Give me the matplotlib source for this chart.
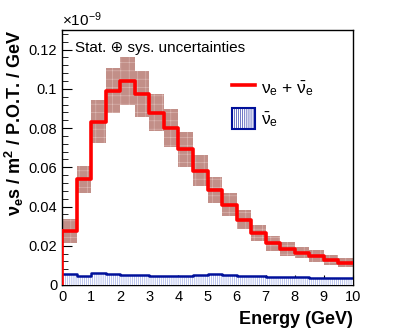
import numpy as np
import matplotlib
matplotlib.use('Agg')
import matplotlib.pyplot as plt
from matplotlib.lines import Line2D
from matplotlib.patches import Patch
from matplotlib.ticker import MultipleLocator

plt.rcParams['font.family'] = ['Liberation Sans', 'DejaVu Sans']
plt.rcParams['mathtext.fontset'] = 'custom'
plt.rcParams['mathtext.rm'] = 'Liberation Sans'
plt.rcParams['mathtext.it'] = 'Liberation Sans'
plt.rcParams['mathtext.bf'] = 'Liberation Sans:bold'

# energy bins (GeV)
bin_edges = np.arange(0, 10.5, 0.5)

# nue + nuebar flux (x1e-9)
total = [0.0276, 0.0539, 0.0833, 0.0991, 0.1041, 0.0974, 0.0879, 0.0799,
         0.0692, 0.0583, 0.0485, 0.0410, 0.0332, 0.0264, 0.0212, 0.0184,
         0.0165, 0.0148, 0.0126, 0.0114]
# stat + sys uncertainty
total_err = [0.0062, 0.0070, 0.0108, 0.0114, 0.0122, 0.0118, 0.0095, 0.0098,
             0.0090, 0.0078, 0.0068, 0.0058, 0.0048, 0.0042, 0.0037, 0.0034,
             0.0027, 0.0030, 0.0025, 0.0023]
# nuebar only
nuebar = [0.0056, 0.0046, 0.0060, 0.0055, 0.0050, 0.0049, 0.0048, 0.0047,
          0.0048, 0.0052, 0.0054, 0.0050, 0.0047, 0.0045, 0.0043, 0.0041,
          0.0040, 0.0038, 0.0036, 0.0034]

fig = plt.figure(figsize=(4.15, 3.35), dpi=100)
ax = fig.add_axes([0.1494, 0.1493, 0.7012, 0.7611])

# uncertainty boxes
plt.rcParams['hatch.linewidth'] = 0.4
for i in range(len(total)):
    ax.fill_between(bin_edges[i:i + 2], total[i] - total_err[i], total[i] + total_err[i],
                    facecolor='#c28f88', edgecolor='#ddbbb6', hatch='++', lw=0, zorder=2)

# nuebar hatched histogram
nb = np.append(nuebar, nuebar[-1])
ax.fill_between(bin_edges, 0, nb, step='post', facecolor='white', edgecolor='#8595e0',
                hatch='||||||||', lw=0, zorder=3)
ax.step(bin_edges, nb, where='post', color='#00109a', lw=1.8, zorder=4)

# total histogram
tt = np.append(total, total[-1])
ax.step(bin_edges, tt, where='post', color='#ff0000', lw=2.6, zorder=5)
ax.plot([0, 0], [0, total[0]], color='#ff0000', lw=2.6, zorder=5)

ax.set_xlim(0, 10)
ax.set_ylim(0, 0.13)
ax.xaxis.set_major_locator(MultipleLocator(1))
ax.xaxis.set_minor_locator(MultipleLocator(0.2))
ax.yaxis.set_major_locator(MultipleLocator(0.02))
ax.yaxis.set_minor_locator(MultipleLocator(0.004))
ax.set_yticks([0, 0.02, 0.04, 0.06, 0.08, 0.1, 0.12])
ax.set_yticklabels(['0', '0.02', '0.04', '0.06', '0.08', '0.1', '0.12'])
ax.tick_params(which='both', direction='in', top=False, right=False, labelsize=10.5)
ax.tick_params(which='major', length=7)
ax.tick_params(which='minor', length=4)
for s in ax.spines.values():
    s.set_linewidth(1.0)

ax.set_xlabel('Energy (GeV)', fontsize=13, fontweight='bold', loc='right', labelpad=5)
ax.set_ylabel(r'$\mathbf{\nu_{e}}$s / m$^{\mathbf{2}}$ / P.O.T. / GeV', fontsize=13,
              fontweight='bold', loc='top', labelpad=2)

fig.text(0.1494, 0.912, r'$\times$10$^{-9}$', fontsize=11, ha='left', va='bottom')
ax.text(0.045, 0.93, 'Stat. \u2295 sys. uncertainties', transform=ax.transAxes,
        fontsize=11, ha='left', va='center')

handles = [Line2D([0], [0], color='#ff0000', lw=2.6),
           Patch(facecolor='white', edgecolor='#00109a', hatch='||||||||', lw=1.5)]
labels = [r'$\nu_{e}$ + $\bar{\nu}_{e}$', r'$\bar{\nu}_{e}$']
ax.legend(handles, labels, loc='upper left', bbox_to_anchor=(0.584, 0.815), frameon=False,
          fontsize=12.5, handlelength=1.35, handleheight=1.5, handletextpad=0.3,
          labelspacing=0.55, borderaxespad=0, borderpad=0)

fig.savefig('out.png', dpi=100)
